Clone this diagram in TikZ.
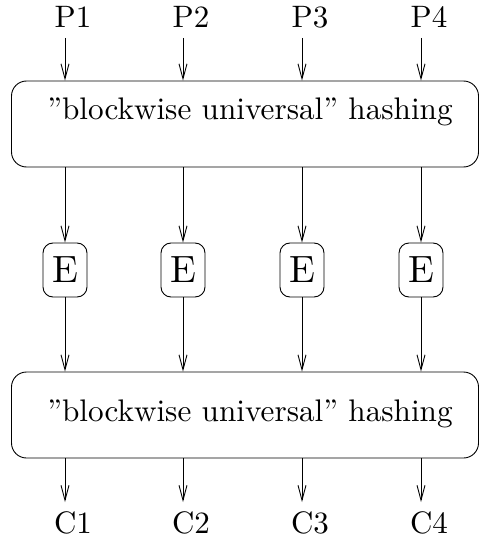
\documentclass[tikz,border=0pt]{standalone}
\usepackage{graphicx}
\usetikzlibrary{arrows.meta}
\begin{document}
\begin{tikzpicture}[x=1pt,y=-1pt,
  conn/.style={line width=0.9pt,-{Straight Barb[length=15pt,width=8pt]}},
  hbox/.style={draw,line width=0.9pt,rounded corners=15pt,minimum width=467pt,minimum height=86pt,inner sep=0pt},
  ebox/.style={draw,line width=0.9pt,rounded corners=10pt,minimum width=44pt,minimum height=54pt,inner sep=0pt,font=\fontsize{10}{12}\selectfont},
  lab/.style={inner sep=0pt,anchor=base,font=\fontsize{10}{12}\selectfont},
  htxt/.style={inner sep=0pt,anchor=base,font=\fontsize{10}{12}\selectfont}]
\useasboundingbox (0,0) rectangle (479,540);
% hashing boxes
\node[hbox] (h1) at (245,124) {};
\node[htxt] (t1) at (250,120) {\scalebox{3.12}{''blockwise universal'' hashing}};
\node[hbox] (h2) at (245,415) {};
\node[htxt] (t2) at (250,421) {\scalebox{3.12}{''blockwise universal'' hashing}};
% labels
\foreach \i/\x in {1/65,2/183,3/302,4/421}{
  \node[lab] (p\i) at (\x+8,28) {\scalebox{3.1}{P\i}};
  \node[lab] (c\i) at (\x+8,533) {\scalebox{3.1}{C\i}};
  \coordinate (top\i) at (\x,38);
  \coordinate (bot\i) at (\x,502);
  \node[ebox] (e\i) at (\x,270) {\scalebox{3.8}{E}};
  \draw[conn] (top\i) -- (top\i |- h1.north);
  \draw[conn] (top\i |- h1.south) -- (e\i.north);
  \draw[conn] (e\i.south) -- (top\i |- h2.north);
  \draw[conn] (top\i |- h2.south) -- (bot\i);
}
\end{tikzpicture}
\end{document}
